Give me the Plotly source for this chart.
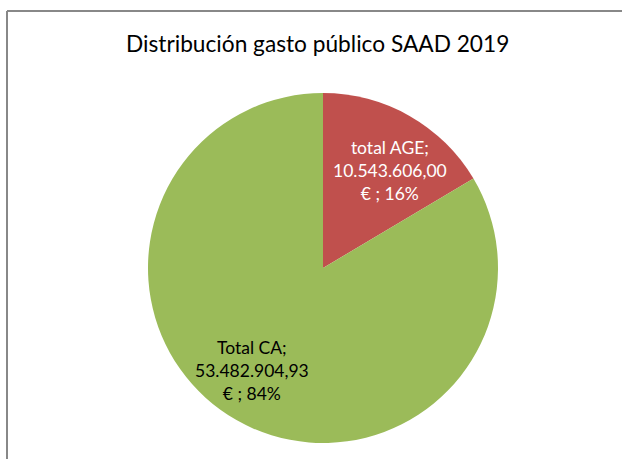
import math
import plotly.graph_objects as go

labels = ["total AGE", "Total CA"]
values = [10543606.00, 53482904.93]
colors = ["#C0504D", "#9BBB59"]
text_colors = ["white", "black"]
title = "Distribución gasto público SAAD 2019"

W, H = 622, 459
cx, cy, R = 323, 268, 175

def fmt_es(v):
    s = f"{v:,.2f}"
    return s.replace(",", "X").replace(".", ",").replace("X", ".")

fig = go.Figure(go.Pie(
    labels=labels, values=values, sort=False, direction="clockwise", rotation=0,
    marker=dict(colors=colors, line=dict(width=0)),
    textinfo="none", hoverinfo="label+value+percent", showlegend=False,
    domain=dict(x=[(cx - R) / W, (cx + R) / W], y=[(H - cy - R) / H, (H - cy + R) / H]),
))

total = sum(values)
cum = 0
rfr = [0.675, 0.71]
ang_off = math.radians(5)
for i, (lab, v) in enumerate(zip(labels, values)):
    frac = v / total
    mid = (cum + frac / 2) * 2 * math.pi + ang_off
    cum += frac
    px = cx + rfr[i] * R * math.sin(mid)
    py = cy - rfr[i] * R * math.cos(mid)
    txt = f"{lab};<br>{fmt_es(v)}<br>€ ; {round(frac*100)}%"
    fig.add_annotation(x=px / W, y=1 - py / H, xref="paper", yref="paper", text=txt,
                       xanchor="center", yanchor="middle",
                       showarrow=False, align="center",
                       font=dict(family="Lato, Open Sans, sans-serif", size=17.5, color=text_colors[i]))

fig.add_annotation(x=317 / W, y=1 - 43 / H, xref="paper", yref="paper", text=title,
                   xanchor="center", yanchor="middle",
                   showarrow=False, font=dict(family="Lato, Open Sans, sans-serif", size=22.7, color="black"))

fig.add_shape(type="line", xref="paper", yref="paper", x0=7 / W, x1=1.01, y0=1 - 11 / H, y1=1 - 11 / H,
              line=dict(color="#888888", width=2))
fig.add_shape(type="line", xref="paper", yref="paper", x0=7 / W, x1=7 / W, y0=1 - 11 / H, y1=-0.01,
              line=dict(color="#888888", width=2))

fig.update_layout(width=W, height=H, margin=dict(l=0, r=0, t=0, b=0),
                  paper_bgcolor="white", plot_bgcolor="white")
fig.write_html("out.html", config={"displayModeBar": False},
               post_script="document.body.style.margin='0';document.body.style.overflow='hidden';")
